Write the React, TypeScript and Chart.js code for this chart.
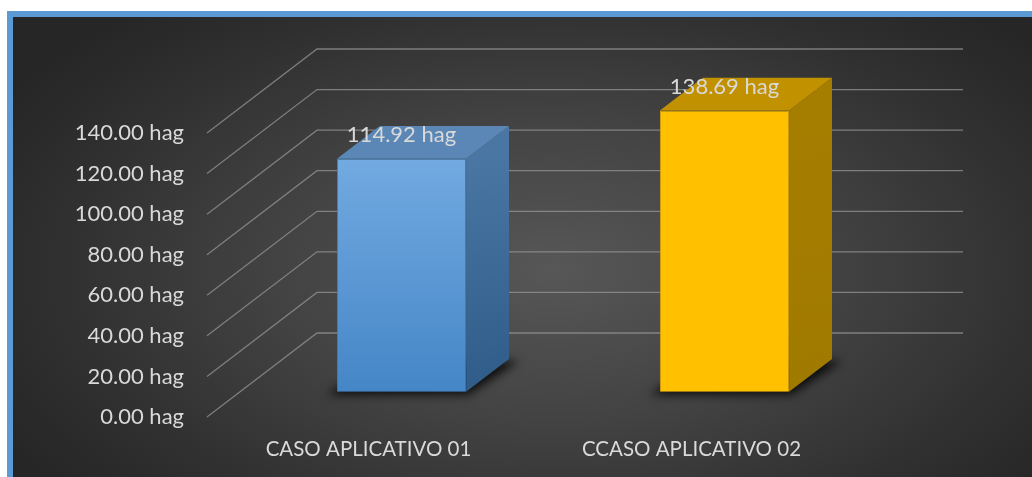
import { useEffect, useRef } from "react";
import { Chart, registerables } from "chart.js";

Chart.register(...registerables);

// Series data
const categories = ["CASO APLICATIVO 01", "CCASO APLICATIVO 02"];
const values = [114.92, 138.69];
const unit = "hag";
const yMin = 0;
const yMax = 140;
const yStep = 20;
const yTicks = [0, 20, 40, 60, 80, 100, 120, 140];

// Per-bar face colours (front top, front bottom, top face, side top, side bottom)
const frontTop = ["#72AAE1", "#FFC000"];
const frontBottom = ["#4586C7", "#FFC000"];
const topFace = ["#5B87B6", "#C29100"];
const sideTop = ["#4A76A3", "#A57E00"];
const sideBottom = ["#2E5B88", "#A07A00"];
const edgeColor = ["#3F7DBB", "#D8A200"];

const FONT = "Lato, 'Open Sans', sans-serif";
const TEXT = "#D9D9D9";
const GRID = "rgba(150,150,150,0.75)";

// Oblique projection of the depth axis
const WALL_DX = 110;
const WALL_DY = -84;
const BAR_FRONT = 0.3;
const BAR_DEPTH = 0.39;

function poly(ctx: CanvasRenderingContext2D, pts: number[][]) {
  ctx.beginPath();
  ctx.moveTo(pts[0][0], pts[0][1]);
  for (let i = 1; i < pts.length; i++) ctx.lineTo(pts[i][0], pts[i][1]);
  ctx.closePath();
}

const depthPlugin = {
  id: "depth3d",
  beforeDatasetsDraw(chart: any) {
    const { ctx, chartArea, scales } = chart;
    const ys = scales.y;
    ctx.save();
    // side wall + back wall gridlines
    ctx.strokeStyle = GRID;
    ctx.lineWidth = 1.3;
    for (const v of yTicks) {
      const py = ys.getPixelForValue(v);
      ctx.beginPath();
      ctx.moveTo(chartArea.left, py);
      ctx.lineTo(chartArea.left + WALL_DX, py + WALL_DY);
      ctx.lineTo(chartArea.right + WALL_DX, py + WALL_DY);
      ctx.stroke();
    }
    const fx = WALL_DX * BAR_FRONT;
    const fy = WALL_DY * BAR_FRONT;
    const dx = WALL_DX * BAR_DEPTH;
    const dy = WALL_DY * BAR_DEPTH;
    const meta = chart.getDatasetMeta(0);
    meta.data.forEach((bar: any, i: number) => {
      const p = bar.getProps(["x", "y", "base", "width"], true);
      const l = p.x - p.width / 2 + fx;
      const r = p.x + p.width / 2 + fx;
      const t = p.y + fy;
      const b = p.base + fy;
      // soft floor shadow
      ctx.save();
      ctx.filter = "blur(5px)";
      ctx.fillStyle = "rgba(0,0,0,0.8)";
      poly(ctx, [
        [l - 10, b + 3],
        [r + 2, b + 3],
        [r + dx + 10, b + dy + 2],
        [l + dx, b + dy],
      ]);
      ctx.fill();
      ctx.restore();
      // right side face
      const sg = ctx.createLinearGradient(r, t, r + dx, b);
      sg.addColorStop(0, sideTop[i]);
      sg.addColorStop(1, sideBottom[i]);
      ctx.fillStyle = sg;
      poly(ctx, [
        [r, t],
        [r + dx, t + dy],
        [r + dx, b + dy],
        [r, b],
      ]);
      ctx.fill();
      // top face
      ctx.fillStyle = topFace[i];
      poly(ctx, [
        [l, t],
        [l + dx, t + dy],
        [r + dx, t + dy],
        [r, t],
      ]);
      ctx.fill();
    });
    ctx.restore();
    // front faces drawn by the bar controller, pushed back into depth
    ctx.save();
    ctx.translate(fx, fy);
  },
  afterDatasetsDraw(chart: any) {
    const { ctx } = chart;
    ctx.restore();
    const fx = WALL_DX * BAR_FRONT;
    const fy = WALL_DY * BAR_FRONT;
    const meta = chart.getDatasetMeta(0);
    ctx.save();
    ctx.fillStyle = TEXT;
    ctx.font = `22px ${FONT}`;
    ctx.textAlign = "center";
    ctx.textBaseline = "alphabetic";
    meta.data.forEach((bar: any, i: number) => {
      const p = bar.getProps(["x", "y"], true);
      ctx.fillText(`${values[i].toFixed(2)} ${unit}`, p.x + fx, p.y + fy - 16.5);
    });
    ctx.restore();
  },
};

export default function App() {
  const ref = useRef<HTMLCanvasElement>(null);

  useEffect(() => {
    const canvas = ref.current;
    if (!canvas) return;
    const chart = new Chart(canvas, {
      type: "bar",
      data: {
        labels: categories,
        datasets: [
          {
            data: values,
            backgroundColor: (c: any) => {
              const chart = c.chart;
              const ys = chart.scales?.y;
              const i = c.dataIndex ?? 0;
              if (!ys || frontTop[i] === frontBottom[i]) return frontTop[i];
              const top = ys.getPixelForValue(values[i]);
              const base = ys.getPixelForValue(0);
              if (!Number.isFinite(top) || !Number.isFinite(base) || top === base) return frontTop[i];
              const g = chart.ctx.createLinearGradient(0, top, 0, base);
              g.addColorStop(0, frontTop[i]);
              g.addColorStop(1, frontBottom[i]);
              return g;
            },
            borderColor: edgeColor,
            borderWidth: 1,
            barPercentage: 0.4,
            categoryPercentage: 1,
            clip: false as any,
          },
        ],
      },
      options: {
        animation: false,
        responsive: false,
        devicePixelRatio: 1,
        layout: { padding: { left: 0, right: 179, top: 116, bottom: 0 } },
        plugins: {
          legend: { display: false },
          tooltip: { enabled: false },
        },
        scales: {
          x: {
            grid: { display: false, drawTicks: false },
            border: { display: false },
            ticks: {
              color: TEXT,
              font: { family: FONT, size: 20.5 },
              padding: 20,
              maxRotation: 0,
              autoSkip: false,
            },
            afterFit(s: any) {
              s.height = 60;
            },
          },
          y: {
            min: yMin,
            max: yMax,
            grid: { display: false, drawTicks: false },
            border: { display: false },
            ticks: {
              stepSize: yStep,
              color: TEXT,
              font: { family: FONT, size: 22 },
              padding: 23,
              callback: (v: any) => `${Number(v).toFixed(2)} ${unit}`,
            },
            afterFit(s: any) {
              s.width = 194;
            },
          },
        },
      },
      plugins: [depthPlugin],
    });
    return () => chart.destroy();
  }, []);

  return (
    <div
      style={{
        position: "fixed",
        left: 0,
        top: 0,
        width: 1032,
        height: 477,
        background: "#ffffff",
        overflow: "hidden",
      }}
    >
      <div
        style={{
          position: "absolute",
          left: 7,
          top: 11,
          width: 1025,
          height: 466,
          boxSizing: "border-box",
          borderLeft: "6px solid #5B9BD5",
          borderTop: "6px solid #5B9BD5",
          background:
            "radial-gradient(ellipse 62% 75% at 53% 55%, #575757 0%, #424242 45%, #2f2f2f 80%, #262626 100%)",
        }}
      >
        <canvas ref={ref} width={1019} height={460} style={{ display: "block", width: 1019, height: 460 }} />
      </div>
    </div>
  );
}
